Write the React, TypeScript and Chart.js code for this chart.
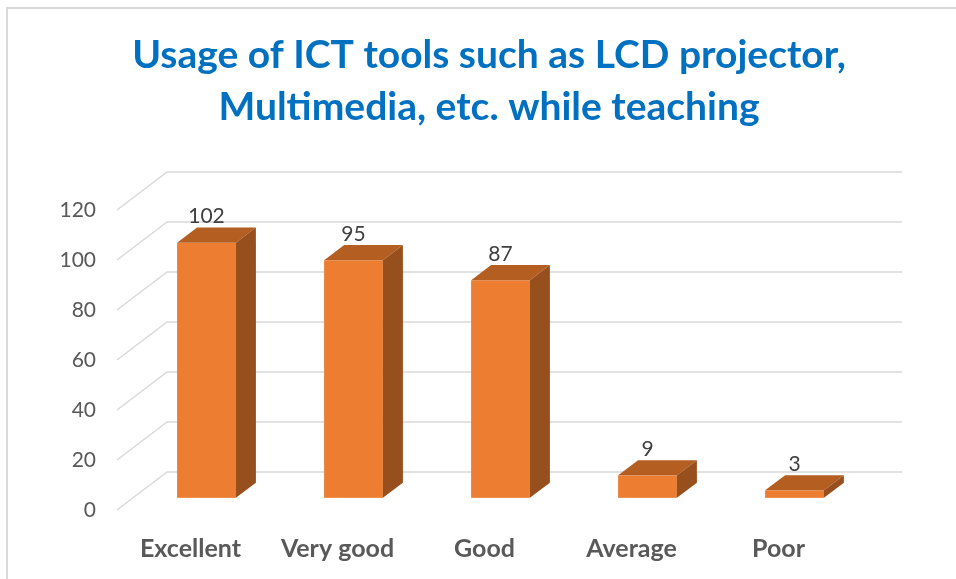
import React, { useEffect, useRef } from "react";
import { Chart, registerables } from "chart.js";

Chart.register(...registerables);

const titleLines = ["Usage of ICT tools such as LCD projector,", "Multimedia, etc. while teaching"];
const categories = ["Excellent", "Very good", "Good", "Average", "Poor"];
const responses = [102, 95, 87, 9, 3];
const yTicks = [0, 20, 40, 60, 80, 100, 120];

const FONT = "Lato, 'Liberation Sans', sans-serif";
// 3D projection helpers (depth vector of the floor / side wall)
const DEPTH = { x: 50, y: -38 };
const FRONT = 0.32;
const BAR_DEPTH = 0.4;

const depthPlugin = {
  id: "depth3d",
  beforeDraw(chart: any) {
    const ctx = chart.ctx;
    ctx.save();
    ctx.strokeStyle = "#D9D9D9";
    ctx.lineWidth = 2;
    ctx.beginPath();
    ctx.moveTo(7, chart.height);
    ctx.lineTo(7, 8);
    ctx.lineTo(chart.width, 8);
    ctx.stroke();
    ctx.restore();
  },
  beforeDatasetsDraw(chart: any) {
    const ctx = chart.ctx;
    const y = chart.scales.y;
    const area = chart.chartArea;
    ctx.save();
    ctx.strokeStyle = "#D9D9D9";
    ctx.lineWidth = 1.5;
    yTicks.forEach((v) => {
      const py = y.getPixelForValue(v);
      ctx.beginPath();
      ctx.moveTo(area.left, py);
      ctx.lineTo(area.left + DEPTH.x, py + DEPTH.y);
      ctx.lineTo(area.right + DEPTH.x, py + DEPTH.y);
      ctx.stroke();
    });
    ctx.restore();
  },
  afterDatasetsDraw(chart: any) {
    const ctx = chart.ctx;
    const meta = chart.getDatasetMeta(0);
    const fx = DEPTH.x * FRONT;
    const fy = DEPTH.y * FRONT;
    const sx = DEPTH.x * BAR_DEPTH;
    const sy = DEPTH.y * BAR_DEPTH;
    ctx.save();
    meta.data.forEach((el: any, i: number) => {
      const p = el.getProps(["x", "y", "base", "width"], true);
      const L = p.x - p.width / 2 + fx;
      const R = p.x + p.width / 2 + fx;
      const T = p.y + fy;
      const B = p.base + fy;
      // front
      ctx.fillStyle = "#ED7D31";
      ctx.fillRect(L, T, R - L, B - T);
      // top
      ctx.fillStyle = "#B45E22";
      ctx.beginPath();
      ctx.moveTo(L, T);
      ctx.lineTo(R, T);
      ctx.lineTo(R + sx, T + sy);
      ctx.lineTo(L + sx, T + sy);
      ctx.closePath();
      ctx.fill();
      // side
      ctx.fillStyle = "#974F1D";
      ctx.beginPath();
      ctx.moveTo(R, T);
      ctx.lineTo(R + sx, T + sy);
      ctx.lineTo(R + sx, B + sy);
      ctx.lineTo(R, B);
      ctx.closePath();
      ctx.fill();
      // value label
      ctx.fillStyle = "#404040";
      ctx.font = `21px ${FONT}`;
      ctx.textAlign = "center";
      ctx.textBaseline = "middle";
      ctx.fillText(String(responses[i]), (L + R) / 2, T + sy - 11);
    });
    ctx.restore();
  },
};

export default function App() {
  const ref = useRef<HTMLCanvasElement | null>(null);
  useEffect(() => {
    document.body.style.margin = "0";
    document.body.style.overflow = "hidden";
    const chart = new Chart(ref.current as HTMLCanvasElement, {
      type: "bar",
      data: {
        labels: categories,
        datasets: [
          {
            data: responses,
            backgroundColor: "rgba(0,0,0,0)",
            borderWidth: 0,
            barPercentage: 1,
            categoryPercentage: 0.4,
            yAxisID: "y",
          },
        ],
      },
      options: {
        responsive: false,
        animation: false,
        events: [],
        layout: { padding: { top: 0, left: 22, right: 0, bottom: 0 } },
        plugins: {
          legend: { display: false },
          tooltip: { enabled: false },
          title: {
            display: true,
            text: titleLines,
            color: "#0070C0",
            font: { family: FONT, size: 39, weight: "bold", lineHeight: 1.333 },
            padding: { top: 29, bottom: 77 },
          },
        },
        scales: {
          x: {
            grid: { display: false, drawTicks: false },
            border: { display: false },
            ticks: {
              color: "#595959",
              font: { family: FONT, size: 25, weight: "bold" },
              padding: 24,
            },
            afterFit: (s: any) => {
              s.height = 69;
            },
          },
          y: {
            min: 0,
            max: 120,
            grid: { display: false, drawTicks: false },
            border: { display: false },
            ticks: {
              stepSize: 20,
              color: "#595959",
              font: { family: FONT, size: 21 },
              padding: 21,
            },
            afterFit: (s: any) => {
              s.width = 95;
            },
          },
          spacer: {
            type: "linear",
            position: "right",
            display: true,
            grid: { display: false, drawTicks: false },
            border: { display: false },
            ticks: { display: false },
            afterFit: (s: any) => {
              s.width = 104;
            },
          },
        },
      },
      plugins: [depthPlugin],
    });
    return () => chart.destroy();
  }, []);
  return (
    <div style={{ position: "fixed", left: 0, top: 0, width: 956, height: 579, background: "#fff" }}>
      <canvas ref={ref} width={956} height={579} />
    </div>
  );
}
